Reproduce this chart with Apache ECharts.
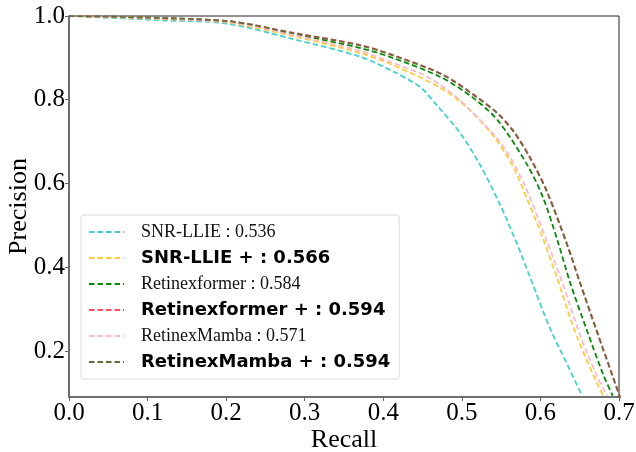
<!DOCTYPE html>
<html><head><meta charset="utf-8">
<script src="https://cdn.jsdelivr.net/npm/echarts@6/dist/echarts.min.js"></script>
<style>html,body{margin:0;padding:0;background:#fff}#c{width:636px;height:452px}</style>
</head><body><div id="c"></div>
<script>
var seriesNames = ["SNR-LLIE : 0.536", "SNR-LLIE + : 0.566", "Retinexformer : 0.584", "Retinexformer + : 0.594", "RetinexMamba : 0.571", "RetinexMamba + : 0.594"];
var boldNames = [false, true, false, true, false, true];
var colors = ["#45d0d0", "#ffcc3d", "#0a8a0a", "#ff4c5c", "#ffb8c6", "#6e6a3e"];
var xTicks = [0.0, 0.1, 0.2, 0.3, 0.4, 0.5, 0.6, 0.7];
var yTicks = [0.2, 0.4, 0.6, 0.8, 1.0];

var snrRecall = [0, 0.116, 0.2, 0.285, 0.370, 0.412, 0.447, 0.468, 0.498, 0.523, 0.549, 0.571, 0.587, 0.612, 0.634, 0.653];
var snrPrec   = [1.0, 0.99, 0.982, 0.945, 0.903, 0.868, 0.830, 0.787, 0.720, 0.645, 0.548, 0.452, 0.375, 0.255, 0.168, 0.093];

var snrPRecall = [0, 0.116, 0.2, 0.285, 0.370, 0.412, 0.472, 0.507, 0.540, 0.565, 0.583, 0.602, 0.621, 0.641, 0.663, 0.680];
var snrPPrec   = [1.0, 0.993, 0.985, 0.952, 0.912, 0.883, 0.829, 0.781, 0.714, 0.641, 0.563, 0.475, 0.375, 0.262, 0.160, 0.093];

var rfRecall = [0, 0.2, 0.285, 0.370, 0.412, 0.472, 0.514, 0.546, 0.583, 0.603, 0.622, 0.638, 0.659, 0.680, 0.692];
var rfPrec   = [1.0, 0.988, 0.957, 0.924, 0.900, 0.855, 0.805, 0.750, 0.645, 0.568, 0.462, 0.362, 0.250, 0.143, 0.093];

var rfPRecall = [0, 0.2, 0.285, 0.370, 0.412, 0.476, 0.519, 0.546, 0.566, 0.587, 0.608, 0.634, 0.650, 0.672, 0.692, 0.704];
var rfPPrec   = [1.0, 0.988, 0.960, 0.931, 0.907, 0.860, 0.807, 0.767, 0.725, 0.662, 0.583, 0.455, 0.366, 0.247, 0.140, 0.075];

var rmRecall = [0, 0.2, 0.285, 0.370, 0.412, 0.456, 0.494, 0.510, 0.549, 0.578, 0.608, 0.629, 0.650, 0.672, 0.685];
var rmPrec   = [1.0, 0.986, 0.955, 0.917, 0.888, 0.855, 0.805, 0.776, 0.698, 0.604, 0.463, 0.357, 0.240, 0.140, 0.093];

var rmPRecall = [0, 0.2, 0.285, 0.370, 0.412, 0.476, 0.519, 0.546, 0.566, 0.587, 0.608, 0.634, 0.650, 0.672, 0.692, 0.704];
var rmPPrec   = [1.0, 0.988, 0.959, 0.930, 0.906, 0.859, 0.806, 0.766, 0.723, 0.660, 0.581, 0.453, 0.364, 0.245, 0.139, 0.074];

var allRecall = [snrRecall, snrPRecall, rfRecall, rfPRecall, rmRecall, rmPRecall];
var allPrec = [snrPrec, snrPPrec, rfPrec, rfPPrec, rmPrec, rmPPrec];

function zip(a, b) { return a.map(function (v, i) { return [v, b[i]]; }); }

var serif = "'Liberation Serif', 'DejaVu Serif', serif";
var series = seriesNames.map(function (n, i) {
  return {
    name: n, type: 'line', data: zip(allRecall[i], allPrec[i]),
    showSymbol: false, symbol: 'none', smooth: 0.3, clip: true,
    lineStyle: { color: colors[i], width: 1.8, type: [5.5, 3] },
    itemStyle: { color: colors[i] }, z: 2 + i
  };
});

var legendData = seriesNames.map(function (n, i) {
  return {
    name: n,
    textStyle: boldNames[i]
      ? { fontFamily: "'DejaVu Sans', sans-serif", fontWeight: 'bold', fontSize: 18, color: '#000', padding: [0, 0, 0, 12] }
      : { fontFamily: serif, fontSize: 18, color: '#111', padding: [0, 0, 0, 12] }
  };
});

var chart = echarts.init(document.getElementById('c'), null, { renderer: 'canvas' });
chart.setOption({
  animation: false,
  backgroundColor: '#fff',
  grid: { left: 69, right: 17, top: 16, bottom: 55, containLabel: false, outerBoundsMode: 'none', show: true, borderColor: '#222', borderWidth: 1, backgroundColor: 'transparent' },
  xAxis: {
    type: 'value', min: 0, max: 0.7, interval: 0.1,
    name: 'Recall', nameLocation: 'middle', nameGap: 30, nameMoveOverlap: false,
    nameTextStyle: { fontFamily: serif, fontSize: 26, color: '#000' },
    axisLine: { show: true, lineStyle: { color: '#666', width: 1.6 } },
    axisTick: { show: true, length: 4, lineStyle: { color: '#666' } },
    axisLabel: { fontFamily: serif, fontSize: 25, color: '#000', margin: 4, formatter: function (v) { return v.toFixed(1); }, showMaxLabel: true },
    splitLine: { show: false }
  },
  yAxis: {
    type: 'value', min: 0.09, max: 1.0,
    name: 'Precision', nameLocation: 'middle', nameGap: 37, nameRotate: 90, nameMoveOverlap: false,
    nameTextStyle: { fontFamily: serif, fontSize: 26, color: '#000' },
    axisLine: { show: true, lineStyle: { color: '#666', width: 1.6 } },
    axisTick: { show: true, length: 4, lineStyle: { color: '#666' }, customValues: yTicks },
    axisLabel: { fontFamily: serif, fontSize: 25, color: '#000', margin: 4, customValues: yTicks, formatter: function (v) { return v.toFixed(1); } },
    splitLine: { show: false }
  },
  legend: {
    orient: 'vertical', left: 81, top: 215,
    padding: [7, 9, 7, 7], itemGap: 6, itemWidth: 35, itemHeight: 14,
    backgroundColor: '#fff', borderColor: '#dcdcdc', borderWidth: 1, borderRadius: 3,
    itemStyle: { opacity: 0 },
    textStyle: { lineHeight: 20 },
    data: legendData
  },
  series: series
});
</script></body></html>
